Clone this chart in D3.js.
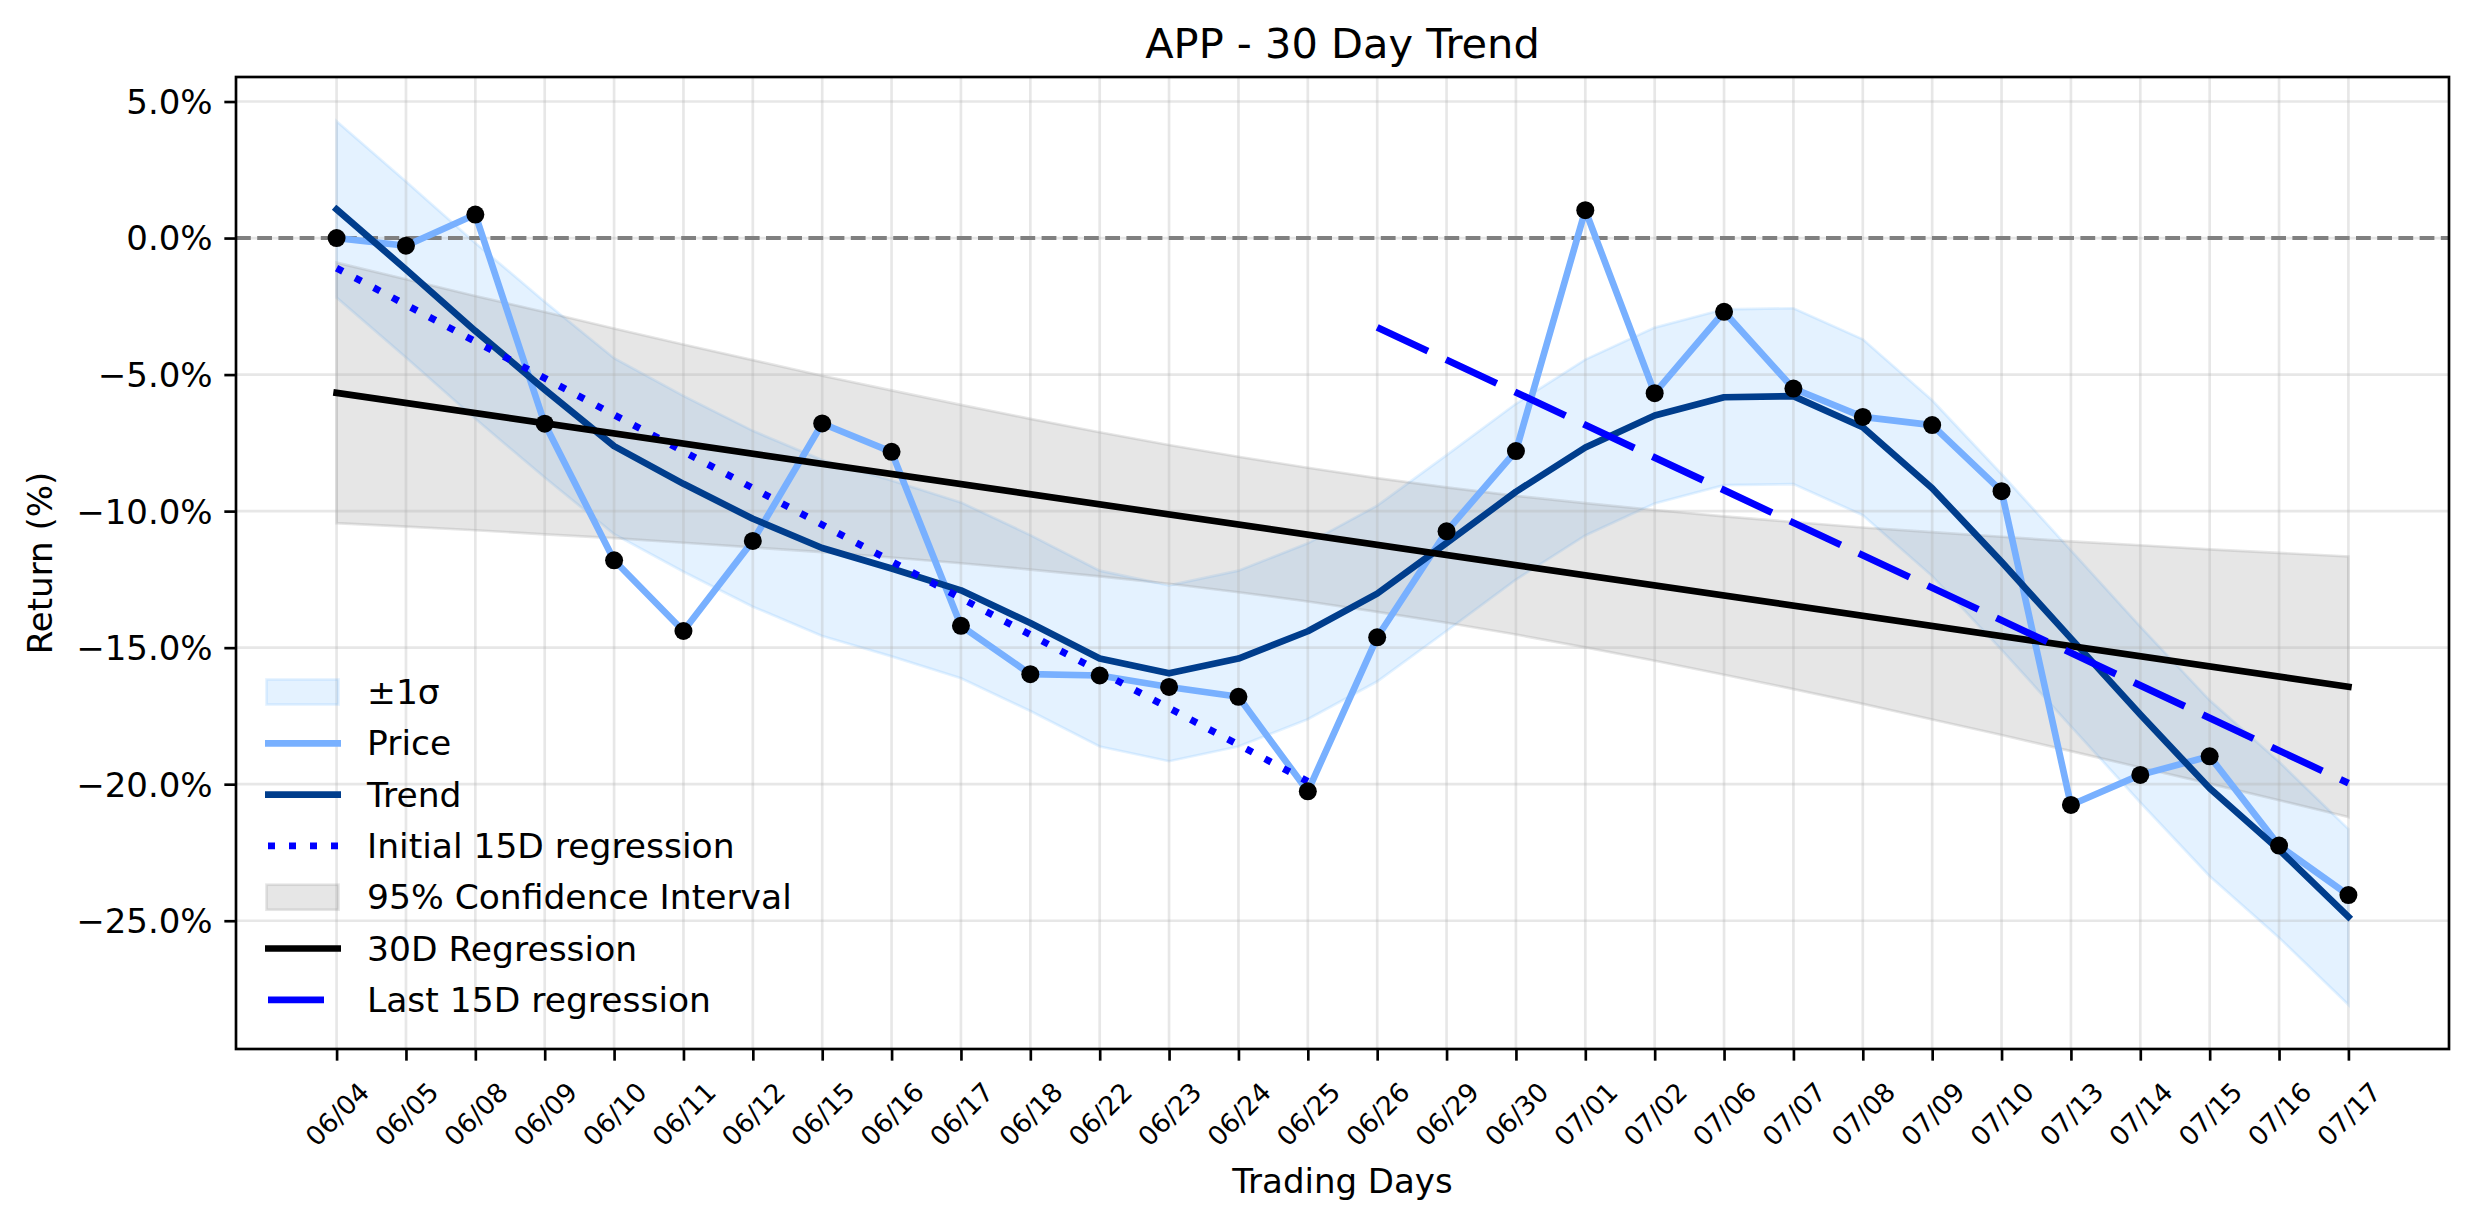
<!DOCTYPE html>
<html>
<head>
<meta charset="utf-8">
<script src="https://cdn.jsdelivr.net/npm/d3@7"></script>
<style>
  body { margin: 0; background: #fff; }
  svg { display: block; font-family: "DejaVu Sans", sans-serif; }
</style>
</head>
<body>
<svg id="chart" width="2474" height="1224"></svg>
<script>
// trading days on the x axis
var days = ["06/04", "06/05", "06/08", "06/09", "06/10", "06/11", "06/12", "06/15", "06/16", "06/17",
  "06/18", "06/22", "06/23", "06/24", "06/25", "06/26", "06/29", "06/30", "07/01", "07/02",
  "07/06", "07/07", "07/08", "07/09", "07/10", "07/13", "07/14", "07/15", "07/16", "07/17"];

// cumulative return (%)
var price = [0, -0.28, 0.86, -6.8, -11.8, -14.39, -11.09, -6.79, -7.83, -14.2,
  -15.97, -16.02, -16.44, -16.8, -20.26, -14.62, -10.74, -7.8, 1.02, -5.68,
  -2.7, -5.51, -6.55, -6.85, -9.27, -20.76, -19.66, -18.98, -22.25, -24.06];

// smoothed trend
var trend = [1.05, -1.15, -3.4, -5.55, -7.62, -9.0, -10.28, -11.35, -12.1, -12.9,
  -14.1, -15.4, -15.94, -15.4, -14.4, -13.02, -11.17, -9.29, -7.67, -6.5,
  -5.83, -5.79, -6.93, -9.16, -11.86, -14.66, -17.45, -20.15, -22.4, -24.86];

// +-1 sigma band edges
var sigmaUpper = [4.28, 2.07, -0.18, -2.33, -4.4, -5.78, -7.06, -8.13, -8.88, -9.68,
  -10.88, -12.18, -12.72, -12.18, -11.18, -9.8, -7.95, -6.07, -4.45, -3.28,
  -2.61, -2.57, -3.71, -5.94, -8.64, -11.44, -14.23, -16.93, -19.18, -21.64];
var sigmaLower = [-2.18, -4.37, -6.62, -8.77, -10.84, -12.22, -13.5, -14.57, -15.32, -16.12,
  -17.32, -18.62, -19.16, -18.62, -17.62, -16.24, -14.39, -12.51, -10.89, -9.72,
  -9.05, -9.01, -10.15, -12.38, -15.08, -17.88, -20.67, -23.37, -25.62, -28.08];

// 30D regression (first / last day) and its 95% confidence band
var reg30Idx = [0, 29];
var reg30 = [-5.67, -16.43];
var ciUpper = [-0.9, -1.51, -2.12, -2.71, -3.31, -3.9, -4.47, -5.04, -5.58, -6.11,
  -6.62, -7.11, -7.58, -8.01, -8.41, -8.79, -9.13, -9.44, -9.71, -9.96,
  -10.19, -10.4, -10.6, -10.77, -10.94, -11.11, -11.25, -11.4, -11.53, -11.66];
var ciLower = [-10.44, -10.57, -10.7, -10.85, -10.99, -11.16, -11.33, -11.5, -11.7, -11.91,
  -12.14, -12.39, -12.66, -12.97, -13.31, -13.69, -14.09, -14.52, -14.99, -15.48,
  -15.99, -16.52, -17.06, -17.63, -18.2, -18.79, -19.39, -19.98, -20.59, -21.2];

// 15 day regressions
var initRegIdx = [0, 14];
var initReg = [-1.1, -19.9];
var lastRegIdx = [15, 29];
var lastReg = [-3.27, -19.96];

var yTicks = [5, 0, -5, -10, -15, -20, -25];
var legendLabels = ["\u00b11\u03c3", "Price", "Trend", "Initial 15D regression",
  "95% Confidence Interval", "30D Regression", "Last 15D regression"];

var width = 2474, height = 1224;
var plot = {left: 236, right: 2449, top: 77, bottom: 1049};
var lw = 3.333; // one point in px

var svg = d3.select("#chart");
svg.append("rect").attr("width", width).attr("height", height).attr("fill", "#fff");

var n = days.length;
var xScale = d3.scaleLinear()
  .domain([-0.05 * (n - 1), 1.05 * (n - 1)])
  .range([plot.left, plot.right]);

var allY = [].concat(price, trend, sigmaUpper, sigmaLower, ciUpper, ciLower);
var yMin = d3.min(allY), yMax = d3.max(allY);
var yPad = (yMax - yMin) * 0.05;
var yScale = d3.scaleLinear()
  .domain([yMin - yPad, yMax + yPad])
  .range([plot.bottom, plot.top]);

svg.append("clipPath").attr("id", "clip")
  .append("rect")
  .attr("x", plot.left).attr("y", plot.top)
  .attr("width", plot.right - plot.left)
  .attr("height", plot.bottom - plot.top);

var g = svg.append("g").attr("clip-path", "url(#clip)");

//!Bands
var band = d3.area()
  .x(d => xScale(d[0]))
  .y0(d => yScale(d[1]))
  .y1(d => yScale(d[2]));

g.append("path")
  .datum(days.map((d, i) => [i, sigmaLower[i], sigmaUpper[i]]))
  .attr("d", band)
  .attr("fill", "#4da6ff").attr("fill-opacity", 0.15)
  .attr("stroke", "#4da6ff").attr("stroke-opacity", 0.15)
  .attr("stroke-width", 0.8 * lw);

g.append("path")
  .datum(days.map((d, i) => [i, ciLower[i], ciUpper[i]]))
  .attr("d", band)
  .attr("fill", "#808080").attr("fill-opacity", 0.2)
  .attr("stroke", "#808080").attr("stroke-opacity", 0.2)
  .attr("stroke-width", 0.8 * lw);

//!Grid
g.append("g")
  .selectAll("line")
  .data(d3.range(n))
  .enter().append("line")
  .attr("x1", i => xScale(i)).attr("x2", i => xScale(i))
  .attr("y1", plot.top).attr("y2", plot.bottom)
  .attr("stroke", "#b0b0b0").attr("stroke-opacity", 0.3)
  .attr("stroke-width", 0.8 * lw);

g.append("g")
  .selectAll("line")
  .data(yTicks)
  .enter().append("line")
  .attr("x1", plot.left).attr("x2", plot.right)
  .attr("y1", d => yScale(d)).attr("y2", d => yScale(d))
  .attr("stroke", "#b0b0b0").attr("stroke-opacity", 0.3)
  .attr("stroke-width", 0.8 * lw);

//!Lines
var line = d3.line()
  .x(d => xScale(d[0]))
  .y(d => yScale(d[1]));

g.append("line")
  .attr("x1", plot.left).attr("x2", plot.right)
  .attr("y1", yScale(0)).attr("y2", yScale(0))
  .attr("stroke", "#808080")
  .attr("stroke-width", 1.2 * lw)
  .attr("stroke-dasharray", "14.8 6.4");

function drawLine(xs, ys, color, width, dash) {
  var path = g.append("path")
    .datum(xs.map((x, i) => [x, ys[i]]))
    .attr("d", line)
    .attr("fill", "none")
    .attr("stroke", color)
    .attr("stroke-width", width)
    .attr("stroke-linejoin", "round");
  if (dash) path.attr("stroke-dasharray", dash).attr("stroke-linecap", "butt");
  else path.attr("stroke-linecap", "square");
  return path;
}

var idx = d3.range(n);
drawLine(idx, price, "#78b0ff", 2 * lw);
drawLine(idx, trend, "#003d8c", 2 * lw);
drawLine(initRegIdx, initReg, "#0000ff", 2.1 * lw, "7 14");
drawLine(reg30Idx, reg30, "#000000", 2 * lw);
drawLine(lastRegIdx, lastReg, "#0000ff", 2.1 * lw, "56 20");

g.append("g")
  .selectAll("circle")
  .data(price)
  .enter().append("circle")
  .attr("cx", (d, i) => xScale(i))
  .attr("cy", d => yScale(d))
  .attr("r", 9)
  .attr("fill", "#000");

//!Axes
var fmt = v => (v < 0 ? "\u2212" : "") + Math.abs(v).toFixed(1) + "%";

var yAxis = svg.append("g")
  .attr("transform", "translate(" + plot.left + ",0)")
  .call(d3.axisLeft(yScale).tickValues(yTicks).tickFormat(fmt)
    .tickSize(3.5 * lw).tickPadding(3.5 * lw));

var xAxis = svg.append("g")
  .attr("transform", "translate(0," + plot.bottom + ")")
  .call(d3.axisBottom(xScale).tickValues(idx).tickFormat(i => days[i])
    .tickSize(3.5 * lw).tickPadding(3.5 * lw));

svg.selectAll(".domain").remove();
svg.selectAll(".tick line").attr("stroke", "#000").attr("stroke-width", 0.8 * lw);

yAxis.selectAll("text")
  .attr("font-family", "DejaVu Sans").attr("font-size", 34)
  .attr("fill", "#000").attr("dy", "0.35em");

xAxis.selectAll("text")
  .attr("font-family", "DejaVu Sans").attr("font-size", 26.5)
  .attr("fill", "#000")
  .attr("y", null).attr("dy", null)
  .attr("text-anchor", "middle")
  .attr("dominant-baseline", "central")
  .attr("transform", "translate(0,65) rotate(-45)");

svg.append("rect")
  .attr("x", plot.left).attr("y", plot.top)
  .attr("width", plot.right - plot.left)
  .attr("height", plot.bottom - plot.top)
  .attr("fill", "none")
  .attr("stroke", "#000")
  .attr("stroke-width", 0.8 * lw);

//!Title and labels
svg.append("text")
  .attr("x", (plot.left + plot.right) / 2).attr("y", 58)
  .attr("text-anchor", "middle")
  .attr("font-size", 41.5)
  .text("APP - 30 Day Trend");

svg.append("text")
  .attr("x", (plot.left + plot.right) / 2).attr("y", 1193)
  .attr("text-anchor", "middle")
  .attr("font-size", 34)
  .text("Trading Days");

svg.append("text")
  .attr("transform", "translate(40," + (plot.top + plot.bottom) / 2 + ") rotate(-90)")
  .attr("text-anchor", "middle")
  .attr("dominant-baseline", "central")
  .attr("font-size", 34)
  .text("Return (%)");

//!Legend
var legendKeys = [
  {type: "patch", fill: "#4da6ff", op: 0.15},
  {type: "line", color: "#78b0ff"},
  {type: "line", color: "#003d8c"},
  {type: "line", color: "#0000ff", dash: "7 14"},
  {type: "patch", fill: "#808080", op: 0.2},
  {type: "line", color: "#000000"},
  {type: "line", color: "#0000ff", dash: "56 20"}
];

var legend = svg.append("g");
legendLabels.forEach((label, i) => {
  var key = legendKeys[i];
  var cy = 692 + i * 51.3;
  if (key.type === "patch") {
    legend.append("rect")
      .attr("x", 266.5).attr("y", cy - 12.5)
      .attr("width", 72).attr("height", 25)
      .attr("fill", key.fill).attr("fill-opacity", key.op)
      .attr("stroke", key.fill).attr("stroke-opacity", key.op)
      .attr("stroke-width", 0.8 * lw);
  } else {
    var l = legend.append("line")
      .attr("x1", 265).attr("x2", 341)
      .attr("y1", cy).attr("y2", cy)
      .attr("stroke", key.color)
      .attr("stroke-width", 2 * lw);
    if (key.dash) l.attr("stroke-dasharray", key.dash).attr("x1", 268);
  }
  legend.append("text")
    .attr("x", 367).attr("y", cy)
    .attr("dominant-baseline", "central")
    .attr("font-size", 34.5)
    .text(label);
});
</script>
</body>
</html>
